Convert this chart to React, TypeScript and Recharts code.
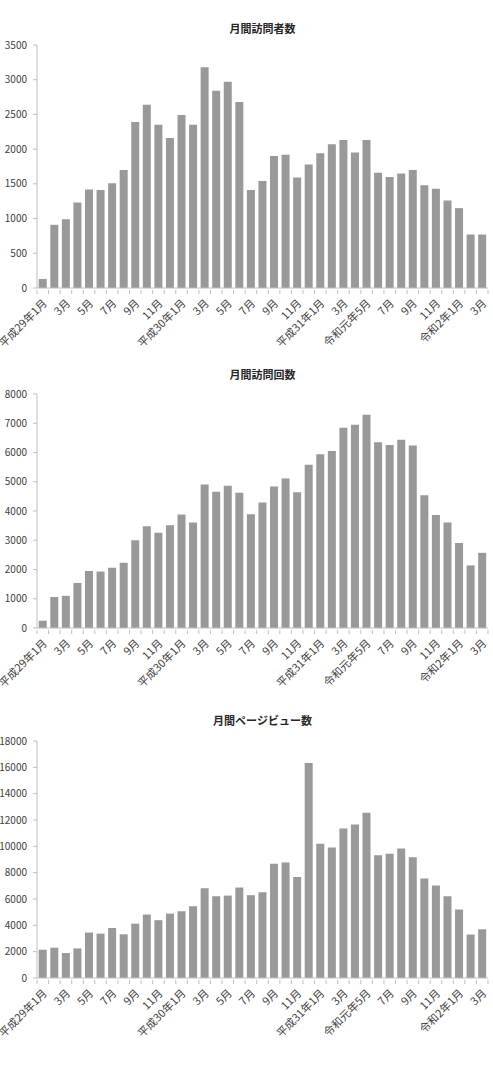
import React from 'react';
import { BarChart, Bar, XAxis, YAxis } from 'recharts';

const months = [
  '平成29年1月', '2月', '3月', '4月', '5月', '6月', '7月', '8月', '9月', '10月', '11月', '12月',
  '平成30年1月', '2月', '3月', '4月', '5月', '6月', '7月', '8月', '9月', '10月', '11月', '12月',
  '平成31年1月', '2月', '3月', '4月', '令和元年5月', '6月', '7月', '8月', '9月', '10月', '11月', '12月',
  '令和2年1月', '2月', '3月',
];

const visitors = [
  130, 910, 990, 1230, 1420, 1410, 1510, 1700, 2390, 2640, 2350, 2160,
  2490, 2350, 3180, 2840, 2970, 2680, 1410, 1540, 1900, 1920, 1590, 1780,
  1940, 2070, 2130, 1950, 2130, 1660, 1600, 1650, 1700, 1480, 1430, 1260,
  1150, 770, 770,
];

const visits = [
  250, 1060, 1100, 1540, 1950, 1930, 2060, 2230, 3000, 3480, 3260, 3510,
  3880, 3610, 4910, 4660, 4860, 4620, 3890, 4290, 4840, 5110, 4640, 5580,
  5940, 6050, 6850, 6950, 7290, 6350, 6260, 6440, 6240, 4540, 3860, 3610,
  2910, 2140, 2570,
];

const pageViews = [
  2150, 2300, 1900, 2250, 3450, 3370, 3800, 3320, 4130, 4820, 4390, 4890,
  5070, 5450, 6820, 6210, 6260, 6870, 6290, 6510, 8670, 8770, 7680, 16330,
  10190, 9910, 11360, 11660, 12550, 9330, 9430, 9840, 9180, 7560, 7020, 6210,
  5200, 3300, 3700,
];

const visitorTicks = [0, 500, 1000, 1500, 2000, 2500, 3000, 3500];
const visitTicks = [0, 1000, 2000, 3000, 4000, 5000, 6000, 7000, 8000];
const pageViewTicks = [0, 2000, 4000, 6000, 8000, 10000, 12000, 14000, 16000, 18000];

const W = 493;
const AXIS_W = 37;
const RIGHT = 5;
const BAND = (W - AXIS_W - RIGHT) / months.length;
const FONT = '"Noto Sans CJK JP", "Noto Sans", sans-serif';
const TEXT = '#404040';
const LINE = '#bfbfbf';

const MonthTick = (props: any) => {
  const { x, y, payload, index } = props;
  const last = index === months.length - 1;
  return (
    <g transform={`translate(${x},${y})`}>
      <line x1={-BAND / 2} y1={0} x2={-BAND / 2} y2={4} stroke={LINE} />
      {last && <line x1={BAND / 2} y1={0} x2={BAND / 2} y2={4} stroke={LINE} />}
      {index % 2 === 0 && (
        <text
          x={5}
          y={14}
          transform="rotate(-45 5 14)"
          textAnchor="end"
          fontSize={11}
          fill={TEXT}
          fontFamily={FONT}
        >
          {payload.value}
        </text>
      )}
    </g>
  );
};

function MonthlyChart({ title, values, ticks, top, height, marginTop, titleY }: {
  title: string;
  values: number[];
  ticks: number[];
  top: number;
  height: number;
  marginTop: number;
  titleY: number;
}) {
  const data = months.map((m, i) => ({ month: m, value: values[i] }));
  return (
    <div style={{ position: 'absolute', left: 0, top, width: W, height }}>
      <div
        style={{
          position: 'absolute',
          left: AXIS_W,
          width: W - AXIS_W - RIGHT,
          top: titleY - 8,
          textAlign: 'center',
          fontFamily: FONT,
          fontWeight: 'bold',
          fontSize: 11,
          color: '#262626',
          lineHeight: '16px',
        }}
      >
        {title}
      </div>
      <BarChart
        width={W}
        height={height}
        data={data}
        margin={{ top: marginTop, right: RIGHT, bottom: 12, left: 0 }}
        barCategoryGap="15%"
      >
        <XAxis
          dataKey="month"
          interval={0}
          height={60}
          tickSize={0}
          tickLine={false}
          axisLine={{ stroke: LINE }}
          tick={<MonthTick />}
        />
        <YAxis
          width={AXIS_W}
          domain={[0, ticks[ticks.length - 1]]}
          ticks={ticks}
          interval={0}
          tickSize={4}
          tickMargin={6}
          axisLine={{ stroke: LINE }}
          tickLine={{ stroke: LINE }}
          tick={{ fill: TEXT, fontSize: 10, fontFamily: FONT }}
        />
        <Bar dataKey="value" fill="#999999" isAnimationActive={false} />
      </BarChart>
    </div>
  );
}

export default function App() {
  return (
    <div style={{ position: 'absolute', left: 0, top: 0, width: W, height: 1070, background: '#fff' }}>
      <MonthlyChart title="月間訪問者数" values={visitors} ticks={visitorTicks} top={0} height={360} marginTop={45} titleY={28} />
      <MonthlyChart title="月間訪問回数" values={visits} ticks={visitTicks} top={350} height={350} marginTop={44} titleY={24} />
      <MonthlyChart title="月間ページビュー数" values={pageViews} ticks={pageViewTicks} top={700} height={350} marginTop={41} titleY={20} />
    </div>
  );
}
